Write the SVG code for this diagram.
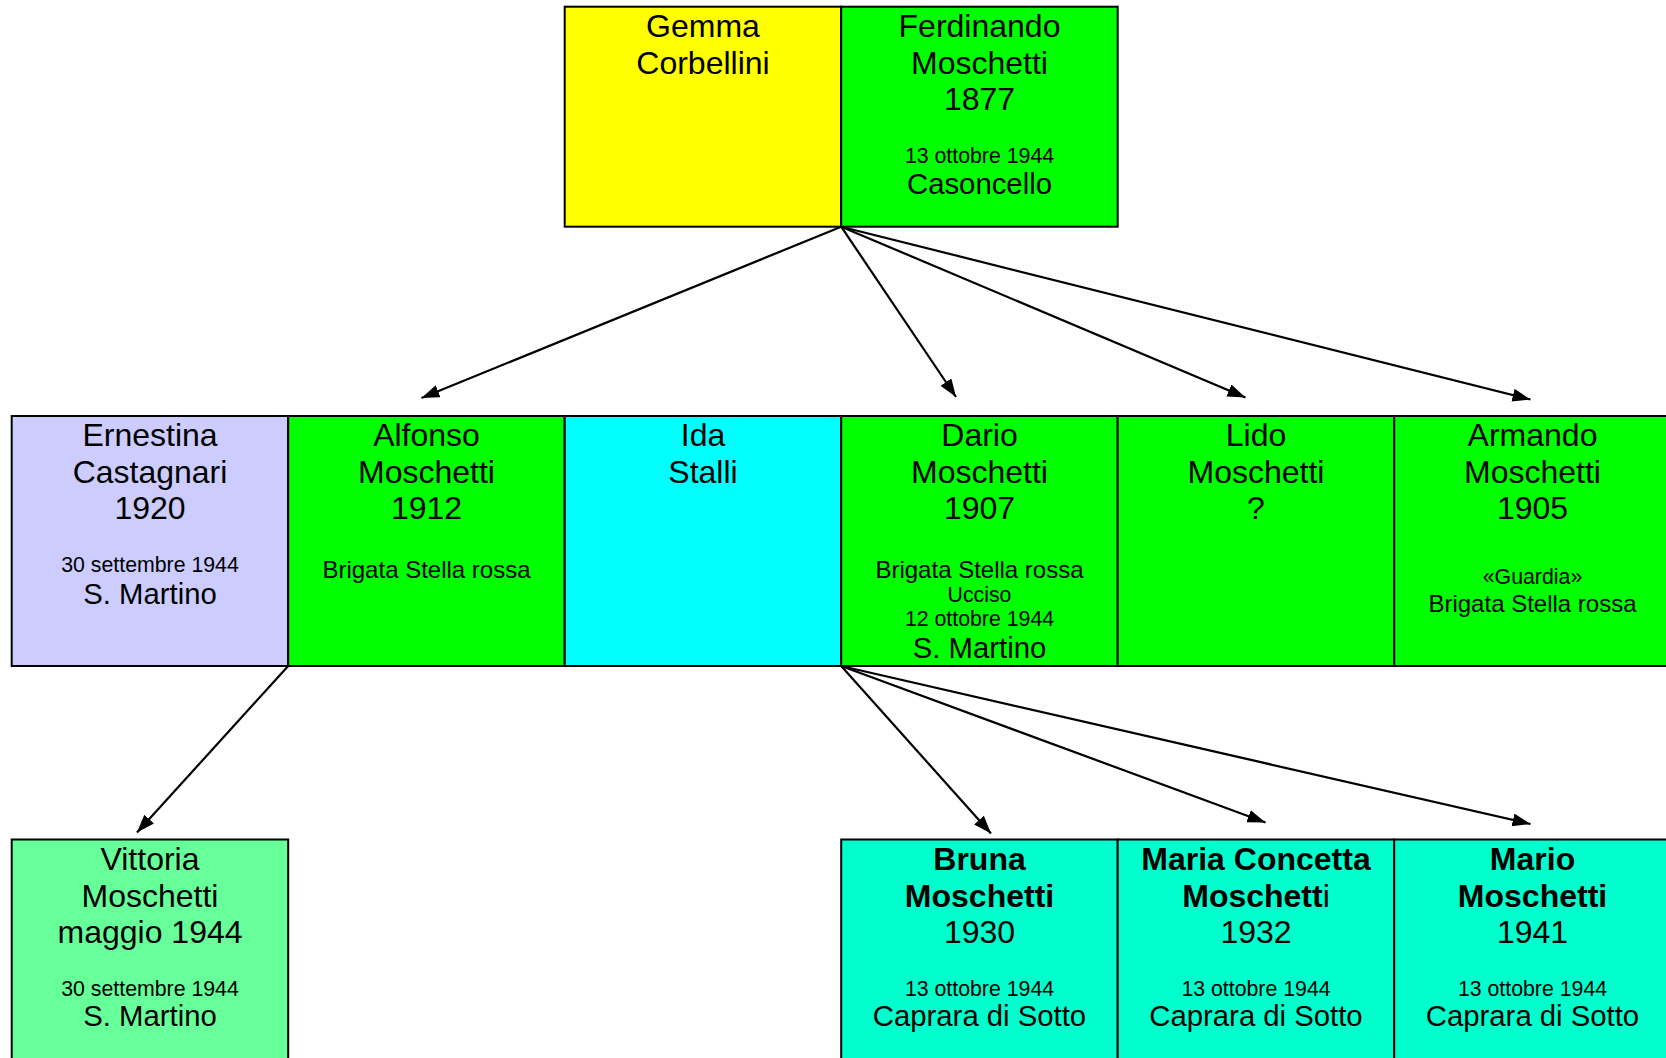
<svg xmlns="http://www.w3.org/2000/svg" width="1666" height="1058" viewBox="0 0 1666 1058">
<style>
rect{stroke:#000;stroke-width:2}
text{font-family:"Liberation Sans",Arial,sans-serif;text-anchor:middle;fill:#000}
.n{font-size:32px}
.p{font-size:29.3px}
.s{font-size:21.3px}
.b{font-size:24px}
.bold{font-weight:bold}
.c line{stroke:#000;stroke-width:2.2;marker-end:url(#ah)}
</style>
<defs>
<marker id="ah" markerUnits="userSpaceOnUse" markerWidth="20" markerHeight="14" refX="18" refY="6.5" orient="auto" viewBox="0 0 20 14">
<path d="M0,0 L18,6.5 L0,13 z" fill="#000"/>
</marker>
</defs>
<rect width="1666" height="1058" fill="#fff" style="stroke:none"/>
<g id="gemma">
<rect x="564.7" y="6.7" width="276.5" height="220" fill="#ffff00"/>
<text class="n" x="703" y="36.7">Gemma</text>
<text class="n" x="703" y="74">Corbellini</text>
</g>
<g id="ferdinando">
<rect x="841.2" y="6.7" width="276.5" height="220" fill="#00ff00"/>
<text class="n" x="979.5" y="36.7">Ferdinando</text>
<text class="n" x="979.5" y="74">Moschetti</text>
<text class="n" x="979.5" y="110">1877</text>
<text class="s" x="979.5" y="163">13 ottobre 1944</text>
<text class="p" x="979.5" y="194">Casoncello</text>
</g>
<g id="ernestina">
<rect x="11.7" y="416" width="276.5" height="250" fill="#ccccff"/>
<text class="n" x="150" y="446">Ernestina</text>
<text class="n" x="150" y="483.3">Castagnari</text>
<text class="n" x="150" y="519">1920</text>
<text class="s" x="150" y="571.5">30 settembre 1944</text>
<text class="p" x="150" y="603.5">S. Martino</text>
</g>
<g id="alfonso">
<rect x="288.2" y="416" width="276.5" height="250" fill="#00ff00"/>
<text class="n" x="426.5" y="446">Alfonso</text>
<text class="n" x="426.5" y="483.3">Moschetti</text>
<text class="n" x="426.5" y="519">1912</text>
<text class="b" x="426.5" y="577.5">Brigata Stella rossa</text>
</g>
<g id="ida">
<rect x="564.7" y="416" width="276.5" height="250" fill="#00ffff"/>
<text class="n" x="703" y="446">Ida</text>
<text class="n" x="703" y="483.3">Stalli</text>
</g>
<g id="dario">
<rect x="841.2" y="416" width="276.5" height="250" fill="#00ff00"/>
<text class="n" x="979.5" y="446">Dario</text>
<text class="n" x="979.5" y="483.3">Moschetti</text>
<text class="n" x="979.5" y="519">1907</text>
<text class="b" x="979.5" y="577.5">Brigata Stella rossa</text>
<text class="s" x="979.5" y="602">Ucciso</text>
<text class="s" x="979.5" y="626">12 ottobre 1944</text>
<text class="p" x="979.5" y="658">S. Martino</text>
</g>
<g id="lido">
<rect x="1117.7" y="416" width="276.5" height="250" fill="#00ff00"/>
<text class="n" x="1256" y="446">Lido</text>
<text class="n" x="1256" y="483.3">Moschetti</text>
<text class="n" x="1256" y="519">?</text>
</g>
<g id="armando">
<rect x="1394.2" y="416" width="276.5" height="250" fill="#00ff00"/>
<text class="n" x="1532.5" y="446">Armando</text>
<text class="n" x="1532.5" y="483.3">Moschetti</text>
<text class="n" x="1532.5" y="519">1905</text>
<text class="s" x="1532.5" y="583.5">«Guardia»</text>
<text class="b" x="1532.5" y="611.5">Brigata Stella rossa</text>
</g>
<g id="vittoria">
<rect x="11.7" y="839.5" width="276.5" height="240" fill="#66ff99"/>
<text class="n" x="150" y="870">Vittoria</text>
<text class="n" x="150" y="907.3">Moschetti</text>
<text class="n" x="150" y="943">maggio 1944</text>
<text class="s" x="150" y="995.5">30 settembre 1944</text>
<text class="p" x="150" y="1026">S. Martino</text>
</g>
<g id="bruna">
<rect x="841.2" y="839.5" width="276.5" height="240" fill="#00ffcc"/>
<text class="n bold" x="979.5" y="870">Bruna</text>
<text class="n bold" x="979.5" y="907.3">Moschetti</text>
<text class="n" x="979.5" y="943">1930</text>
<text class="s" x="979.5" y="995.5">13 ottobre 1944</text>
<text class="p" x="979.5" y="1026">Caprara di Sotto</text>
</g>
<g id="maria">
<rect x="1117.7" y="839.5" width="276.5" height="240" fill="#00ffcc"/>
<text class="n bold" x="1256" y="870">Maria Concetta</text>
<text class="n" x="1256" y="907.3"><tspan class="bold">Moschett</tspan>i</text>
<text class="n" x="1256" y="943">1932</text>
<text class="s" x="1256" y="995.5">13 ottobre 1944</text>
<text class="p" x="1256" y="1026">Caprara di Sotto</text>
</g>
<g id="mario">
<rect x="1394.2" y="839.5" width="276.5" height="240" fill="#00ffcc"/>
<text class="n bold" x="1532.5" y="870">Mario</text>
<text class="n bold" x="1532.5" y="907.3">Moschetti</text>
<text class="n" x="1532.5" y="943">1941</text>
<text class="s" x="1532.5" y="995.5">13 ottobre 1944</text>
<text class="p" x="1532.5" y="1026">Caprara di Sotto</text>
</g>
<g id="connectors" class="c">
<line x1="841.2" y1="226.7" x2="421.5" y2="398"/>
<line x1="841.2" y1="226.7" x2="956" y2="397"/>
<line x1="841.2" y1="226.7" x2="1245.5" y2="397.5"/>
<line x1="841.2" y1="226.7" x2="1530.5" y2="399.5"/>
<line x1="288.2" y1="666" x2="137" y2="832.5"/>
<line x1="841.2" y1="666" x2="991" y2="833.5"/>
<line x1="841.2" y1="666" x2="1265.5" y2="822.5"/>
<line x1="841.2" y1="666" x2="1530.5" y2="824"/>
</g>
</svg>
